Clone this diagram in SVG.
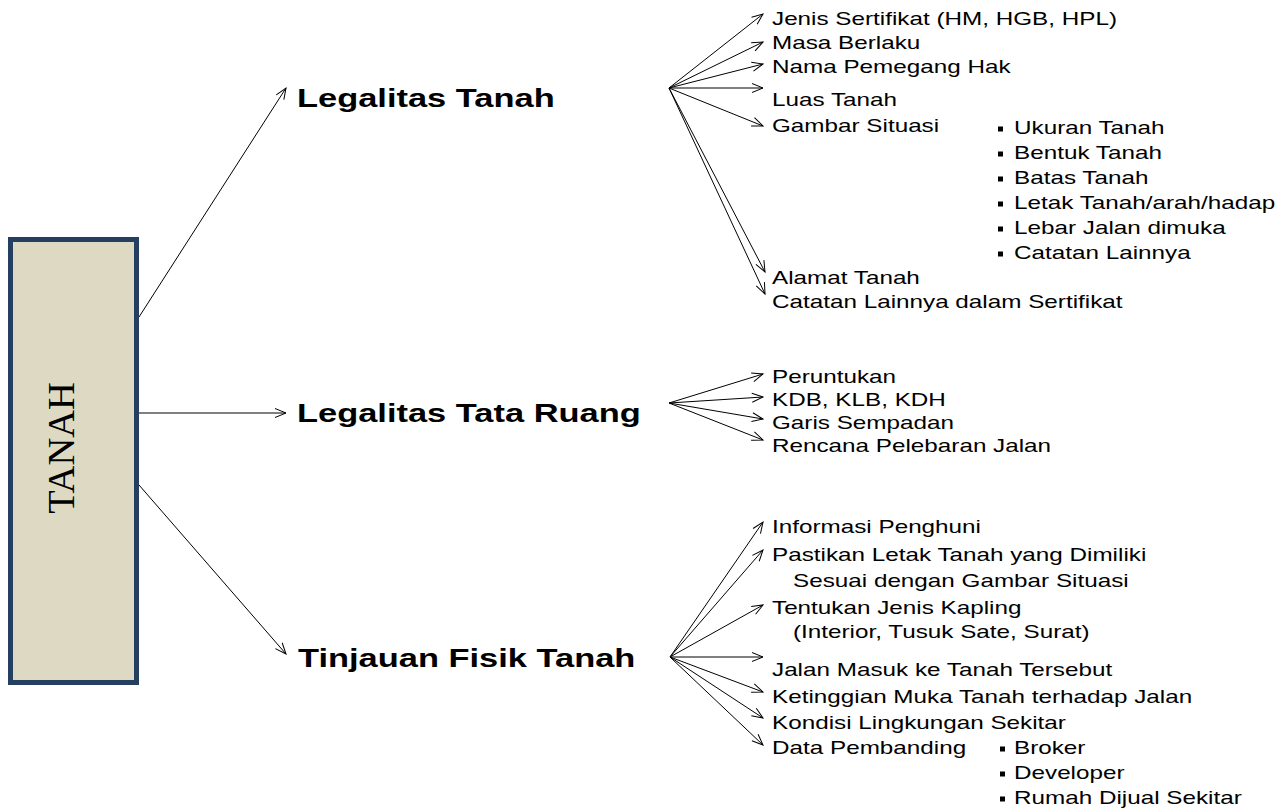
<svg xmlns="http://www.w3.org/2000/svg" width="1288" height="809" viewBox="0 0 1288 809">
<style>
.b{font-family:"Liberation Sans",Arial,sans-serif;font-weight:bold;font-size:26.5px;fill:#000}
.r{font-family:"Liberation Sans",Arial,sans-serif;font-size:18.2px;fill:#000}
.t{font-family:"Liberation Serif","Times New Roman",serif;font-size:38.5px;fill:#000}
.c line{stroke:#000;stroke-width:1;marker-end:url(#ah)}
.bul{fill:#000}
</style>
<defs>
<marker id="ah" markerUnits="userSpaceOnUse" markerWidth="14" markerHeight="12" refX="12" refY="6" orient="auto" viewBox="0 0 14 12">
<path d="M1,1.5 L12,6 L1,10.5" fill="none" stroke="#000" stroke-width="1"/>
</marker>
</defs>
<rect width="1288" height="809" fill="#fff"/>
<g id="connectors" class="c">
<line x1="139" y1="317" x2="286" y2="88"/>
<line x1="139" y1="413" x2="286" y2="413"/>
<line x1="139" y1="485" x2="286" y2="654"/>
<line x1="669" y1="88" x2="763" y2="14"/>
<line x1="669" y1="88" x2="763" y2="42"/>
<line x1="669" y1="88" x2="763" y2="64"/>
<line x1="669" y1="88" x2="763" y2="88"/>
<line x1="669" y1="88" x2="763" y2="126"/>
<line x1="669" y1="88" x2="765" y2="272"/>
<line x1="669" y1="88" x2="765" y2="294"/>
<line x1="669" y1="403" x2="763" y2="374"/>
<line x1="669" y1="403" x2="763" y2="397"/>
<line x1="669" y1="403" x2="763" y2="419"/>
<line x1="669" y1="403" x2="763" y2="440"/>
<line x1="670" y1="657" x2="763" y2="522"/>
<line x1="670" y1="657" x2="763" y2="550"/>
<line x1="670" y1="657" x2="763" y2="605"/>
<line x1="670" y1="657" x2="763" y2="657"/>
<line x1="670" y1="657" x2="763" y2="692"/>
<line x1="670" y1="657" x2="763" y2="718"/>
<line x1="670" y1="657" x2="763" y2="745"/>
</g>
<g id="tanah">
<rect x="10.5" y="239.5" width="126" height="443" fill="#DDD9C3" stroke="#243F60" stroke-width="5"/>
<text class="t" transform="translate(74,448) rotate(-90)" text-anchor="middle">TANAH</text>
</g>
<g id="legalitas-tanah">
<text class="b" transform="translate(297,107) scale(1.3,1)">Legalitas Tanah</text>
<text class="r" transform="translate(772,25) scale(1.333,1)">Jenis Sertifikat (HM, HGB, HPL)</text>
<text class="r" transform="translate(772,49) scale(1.333,1)">Masa Berlaku</text>
<text class="r" transform="translate(772,73) scale(1.333,1)">Nama Pemegang Hak</text>
<text class="r" transform="translate(772,106) scale(1.333,1)">Luas Tanah</text>
<text class="r" transform="translate(772,132) scale(1.333,1)">Gambar Situasi</text>
<rect class="bul" x="998" y="126.5" width="5" height="5"/>
<rect class="bul" x="998" y="151.5" width="5" height="5"/>
<rect class="bul" x="998" y="176.5" width="5" height="5"/>
<rect class="bul" x="998" y="201.5" width="5" height="5"/>
<rect class="bul" x="998" y="226.5" width="5" height="5"/>
<rect class="bul" x="998" y="251.5" width="5" height="5"/>
<text class="r" transform="translate(1014,134) scale(1.333,1)">Ukuran Tanah</text>
<text class="r" transform="translate(1014,159) scale(1.333,1)">Bentuk Tanah</text>
<text class="r" transform="translate(1014,184) scale(1.333,1)">Batas Tanah</text>
<text class="r" transform="translate(1014,209) scale(1.333,1)">Letak Tanah/arah/hadap</text>
<text class="r" transform="translate(1014,234) scale(1.333,1)">Lebar Jalan dimuka</text>
<text class="r" transform="translate(1014,259) scale(1.333,1)">Catatan Lainnya</text>
<text class="r" transform="translate(772,284) scale(1.333,1)">Alamat Tanah</text>
<text class="r" transform="translate(772,308) scale(1.333,1)">Catatan Lainnya dalam Sertifikat</text>
</g>
<g id="legalitas-tata-ruang">
<text class="b" transform="translate(297,422) scale(1.3,1)">Legalitas Tata Ruang</text>
<text class="r" transform="translate(772,383) scale(1.333,1)">Peruntukan</text>
<text class="r" transform="translate(772,406) scale(1.333,1)">KDB, KLB, KDH</text>
<text class="r" transform="translate(772,429) scale(1.333,1)">Garis Sempadan</text>
<text class="r" transform="translate(772,452) scale(1.333,1)">Rencana Pelebaran Jalan</text>
</g>
<g id="tinjauan-fisik-tanah">
<text class="b" transform="translate(298,667) scale(1.3,1)">Tinjauan Fisik Tanah</text>
<text class="r" transform="translate(772,533) scale(1.333,1)">Informasi Penghuni</text>
<text class="r" transform="translate(772,561) scale(1.333,1)">Pastikan Letak Tanah yang Dimiliki</text>
<text class="r" transform="translate(793,587) scale(1.333,1)">Sesuai dengan Gambar Situasi</text>
<text class="r" transform="translate(772,614) scale(1.333,1)">Tentukan Jenis Kapling</text>
<text class="r" transform="translate(793,638) scale(1.333,1)">(Interior, Tusuk Sate, Surat)</text>
<text class="r" transform="translate(772,676) scale(1.333,1)">Jalan Masuk ke Tanah Tersebut</text>
<text class="r" transform="translate(772,703) scale(1.333,1)">Ketinggian Muka Tanah terhadap Jalan</text>
<text class="r" transform="translate(772,729) scale(1.333,1)">Kondisi Lingkungan Sekitar</text>
<text class="r" transform="translate(772,754) scale(1.333,1)">Data Pembanding</text>
<rect class="bul" x="1000" y="746.5" width="5" height="5"/>
<rect class="bul" x="1000" y="771.5" width="5" height="5"/>
<rect class="bul" x="1000" y="796.5" width="5" height="5"/>
<text class="r" transform="translate(1014,754) scale(1.333,1)">Broker</text>
<text class="r" transform="translate(1014,779) scale(1.333,1)">Developer</text>
<text class="r" transform="translate(1014,804) scale(1.333,1)">Rumah Dijual Sekitar</text>
</g>
</svg>
